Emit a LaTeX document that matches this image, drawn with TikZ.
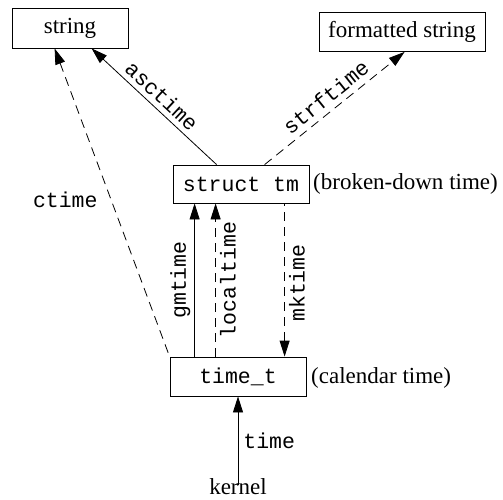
\documentclass[tikz,border=0pt]{standalone}
\usepackage{fontspec}
\setmainfont{Liberation Serif}
\setmonofont{Liberation Mono}
\usetikzlibrary{arrows.meta}
\begin{document}
\begin{tikzpicture}[x=1pt,y=-1pt,
  every node/.style={font=\fontsize{23}{27}\selectfont},
  box/.style={draw,line width=0.8pt,rectangle,inner sep=0pt},
  mono/.style={font=\fontsize{21.5}{26}\selectfont\ttfamily},
  lbl/.style={mono,inner sep=1pt},
  fwd/.style={line width=0.8pt,-{Triangle[length=16pt,width=10pt]}},
  bwd/.style={line width=0.8pt,{Triangle[length=16pt,width=10pt]}-},
  dsh/.style={dash pattern=on 9pt off 6pt}]
\useasboundingbox (0,0) rectangle (503,500);
\node[box,minimum width=116pt,minimum height=40pt] (str) at (70,28) {string};
\node[box,minimum width=166pt,minimum height=39pt] (fstr) at (402,32) {formatted string};
\node[box,mono,minimum width=136pt,minimum height=38pt] (tm) at (241,184) {struct tm};
\node[box,mono,minimum width=136pt,minimum height=39pt] (tt) at (238,376.5) {time\_t};
\node[anchor=west,inner sep=0pt] (bdt) at (313,184) {(broken-down time)};
\node[anchor=west,inner sep=0pt] (cal) at (311,378) {(calendar time)};
\node[inner sep=0pt] (kern) at (238,487) {kernel};
% asctime
\draw[bwd] ([xshift=80pt]str.south west) -- node[lbl,sloped,above=4pt,pos=0.49]{asctime} ([xshift=44pt]tm.north west);
% strftime
\draw[fwd,dsh] ([xshift=92pt]tm.north west) -- node[lbl,sloped,above=5pt,pos=0.5]{strftime} ([xshift=86pt]fstr.south west);
% ctime
\draw[bwd,dsh] ([xshift=43pt]str.south west) -- node[lbl,left=12pt,pos=0.49]{ctime} (tt.north west);
% gmtime
\draw[fwd] ([xshift=25pt]tt.north west) -- node[lbl,sloped,above=3pt,midway]{gmtime} ([xshift=25pt]tt.north west |- tm.south);
% localtime
\draw[fwd,dsh] ([xshift=46pt]tt.north west) -- node[lbl,sloped,below=3pt,midway]{localtime} ([xshift=46pt]tt.north west |- tm.south);
% mktime
\draw[bwd,dsh] ([xshift=115pt]tt.north west) -- node[lbl,sloped,below=3pt,pos=0.48]{mktime} ([xshift=115pt]tt.north west |- tm.south);
% time
\draw[fwd] ([yshift=-6pt]kern.north) -- node[lbl,right=4pt,pos=0.5]{time} (tt.south);
\end{tikzpicture}
\end{document}
